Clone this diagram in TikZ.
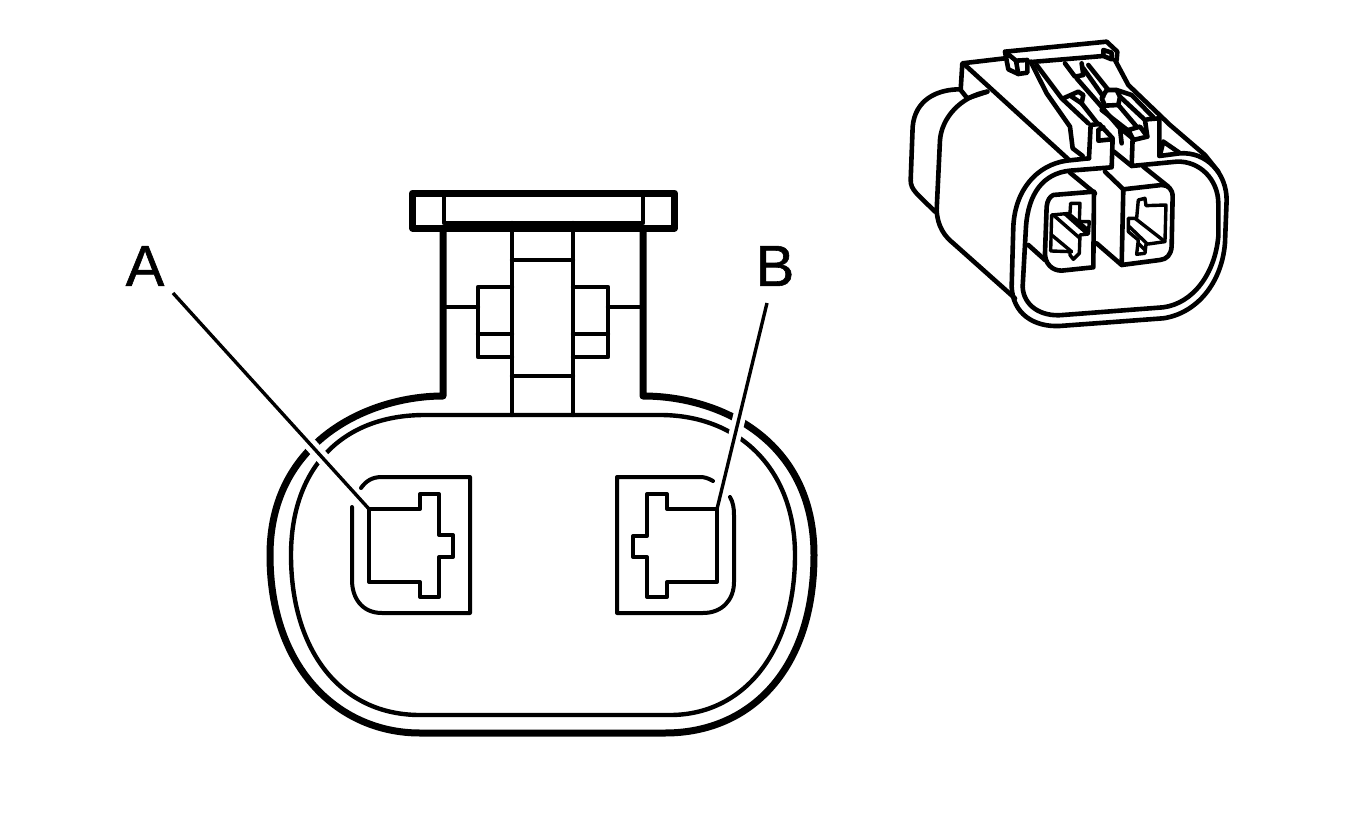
\documentclass[tikz,border=0pt]{standalone}
\usepackage{fontspec}
\usetikzlibrary{calc}
\setmainfont[FakeBold=1]{Liberation Sans}
\tikzset{
  thickln/.style={line width=7pt,line join=round,line cap=butt},
  midln/.style={line width=4pt,line join=round,line cap=round},
  thinln/.style={line width=4.4pt,line join=round,line cap=round},
  smallln/.style={line width=4.6pt,line join=round,line cap=round},
  tinyln/.style={line width=3.4pt,line join=round,line cap=round},
  leader/.style={line width=3.4pt},
  halo/.style={line width=13pt,white},
  lab/.style={font=\fontsize{58}{58}\selectfont,inner sep=0pt}
}
\begin{document}
\begin{tikzpicture}[x=1pt,y=-1pt]
\useasboundingbox (0,0) rectangle (1355,827);
\fill[white] (0,0) rectangle (1355,827);
% ---- large view
\draw[thickln] (443,228) -- (443,396) .. controls (370,396) and (270,440) .. (270,555)
  .. controls (270,670) and (340,733) .. (420,733) -- (665,733)
  .. controls (750,733) and (814,670) .. (814,555)
  .. controls (814,440) and (720,396) .. (643,396) -- (643,228);
\draw[thinln] (425,415) .. controls (340,415) and (291,470) .. (291,555)
  .. controls (291,650) and (340,715) .. (420,715) -- (670,715)
  .. controls (745,715) and (795,650) .. (795,555)
  .. controls (795,470) and (740,415) .. (660,415) -- cycle;
% handle
\draw[thickln] (412.5,193) rectangle (674.5,228);
\draw[thinln] (444,193) -- (444,223) -- (643,223) -- (643,193);
\draw[thinln] (512,223) -- (512,415) (573,223) -- (573,415)
  (512,260) -- (573,260) (512,376) -- (573,376);
\draw[thinln] (512,287) -- (478,287) -- (478,357) -- (512,357) (478,334) -- (512,334)
  (573,287) -- (608,287) -- (608,357) -- (573,357) (608,334) -- (573,334)
  (443,307) -- (478,307) (608,307) -- (643,307);
% sockets
\draw[midln] (361,488) .. controls (366,481) and (372,477) .. (382,477) -- (470,477) -- (470,613) -- (382,613)
  .. controls (362,613) and (352,598) .. (352,580) -- (352,507);
\draw[midln] (713,481) .. controls (708,478) and (704,477) .. (700,477) -- (617,477) -- (617,613) -- (703,613)
  .. controls (722,613) and (734,600) .. (734,582) -- (734,515) .. controls (734,508) and (733,502) .. (730,497);
\draw[midln] (369,509) -- (420,509) -- (420,494) -- (439,494) -- (439,535) -- (453,535) -- (453,557)
  -- (439,557) -- (439,597) -- (420,597) -- (420,582) -- (369,582) -- cycle;
\draw[midln] (717,509) -- (667,509) -- (667,494) -- (647,494) -- (647,536) -- (633,536) -- (633,557)
  -- (647,557) -- (647,597) -- (667,597) -- (667,582) -- (717,582) -- cycle;
% labels and leaders
\node[lab] (labA) at (145,266) {A};
\node[lab] (labB) at (775,266) {B};
\coordinate (endA0) at (173,293);
\coordinate (endA1) at (369,509);
\coordinate (endB0) at (767,303);
\coordinate (endB1) at (717,509);
\draw[halo] ($(endA0)!0.62!(endA1)$) -- ($(endA0)!0.85!(endA1)$);
\draw[halo] ($(endB0)!0.47!(endB1)$) -- ($(endB0)!0.71!(endB1)$);
\draw[leader] (endA0) -- (endA1);
\draw[leader] (endB0) -- (endB1);
% ---- small view (coordinates are those of a 3x enlargement)
\begin{scope}[shift={(890,30)},x=0.3333pt,y=-0.3333pt]
% back lobe
\draw[smallln] (210,178) .. controls (140,178) and (75,210) .. (68,290) -- (62,450)
  .. controls (62,480) and (80,490) .. (135,545);
% body
\draw[smallln] (292,185) .. controls (210,200) and (155,265) .. (150,330) -- (140,540)
  .. controls (142,590) and (165,620) .. (190,640) -- (375,805);
\draw[smallln] (232,205) -- (292,185);
\draw[smallln] (232,205) -- (212,180) -- (217,100) -- (345,85);
\draw[smallln] (225,105) -- (535,388);
% handle bar
\draw[smallln] (345,65) -- (650,35) -- (682,65) -- (680,90);
\draw[smallln] (345,65) -- (355,118) -- (385,132) -- (412,128) -- (412,90) -- (378,92) -- cycle;
\draw[smallln] (378,92) -- (385,132);
\draw[smallln] (412,97) -- (640,78) -- (640,60) -- (665,68) -- (665,88) -- (640,78);
% left arm
\draw[smallln] (422,95) -- (470,190) -- (540,290) -- (548,355) -- (578,378);
\draw[smallln] (440,105) -- (515,205) -- (595,280);
\draw[smallln] (525,100) -- (555,140) -- (580,135) -- (575,100);
\draw[smallln] (520,205) -- (565,185) -- (580,195) -- (575,220) -- (622,280);
\draw[smallln] (545,200) -- (575,220);
% middle
\draw[smallln] (560,145) -- (630,225) -- (690,295) -- (695,340);
\draw[smallln] (580,115) -- (640,200);
\draw[smallln] (595,105) -- (655,180);
\draw[smallln] (635,240) -- (712,300);
% right arm
\draw[smallln] (675,90) -- (715,165) -- (840,285) -- (945,375) -- (985,425);
\draw[smallln] (635,205) -- (650,180) -- (680,180) -- (690,200) -- (685,225) -- (645,227) -- cycle;
\draw[smallln] (680,180) -- (725,195) -- (790,262);
\draw[smallln] (690,200) -- (765,270) -- (772,320);
\draw[smallln] (685,225) -- (740,290);
\draw[smallln] (715,300) -- (750,290) -- (772,320) -- (730,330) -- cycle;
% front frame
\draw[smallln] (597,385) -- (530,392) .. controls (440,405) and (375,480) .. (370,590) -- (365,770)
  .. controls (368,850) and (430,892) .. (510,888) -- (820,865)
  .. controls (920,850) and (995,760) .. (1005,640) -- (1010,510)
  .. controls (1010,430) and (950,365) .. (870,370) -- (808,378) -- (808,265) -- (772,268);
\draw[smallln] (597,385) -- (602,285) -- (628,282) -- (668,325) -- (665,412) -- (540,422)
  .. controls (460,430) and (415,490) .. (408,590) -- (398,770)
  .. controls (400,825) and (450,862) .. (520,855) -- (820,832)
  .. controls (910,820) and (975,730) .. (985,620) -- (985,520)
  .. controls (985,450) and (930,392) .. (860,395) -- (725,408) -- (728,325) -- (695,298);
\draw[smallln] (625,300) -- (625,332) -- (665,328) (625,300) -- (640,292);
\draw[smallln] (820,335) -- (810,375) (820,335) -- (868,368);
\draw[smallln] (672,365) -- (725,408);
% sockets
\draw[smallln] (490,495) -- (612,485) -- (610,712) -- (515,722)
  .. controls (485,722) and (465,700) .. (465,670) -- (470,530) .. controls (472,510) and (480,500) .. (490,495);
\draw[smallln] (700,478) -- (815,465) .. controls (835,465) and (848,478) .. (848,500) -- (845,650)
  .. controls (843,675) and (830,688) .. (810,690) -- (695,705) -- cycle;
\draw[smallln] (540,428) -- (615,490);
\draw[smallln] (645,425) -- (700,478);
\draw[smallln] (760,410) -- (835,470);
\draw[smallln] (415,645) -- (465,690);
\draw[smallln] (620,640) -- (695,705);
% terminal left
\draw[tinyln] (485,555) -- (540,550) -- (542,520) -- (570,520) -- (568,575) -- (598,575) -- (595,612) -- (570,615)
  -- (568,670) -- (550,688) -- (540,675) -- (540,665) -- (482,663) -- cycle;
\draw[tinyln] (490,555) -- (570,625) (525,552) -- (590,610) (535,550) -- (597,602)
  (485,615) -- (545,665);
% terminal right
\draw[tinyln] (745,510) -- (765,505) -- (768,527) -- (828,525) -- (825,635) -- (768,643) -- (765,670) -- (740,673)
  -- (745,630) -- (715,605) -- (715,565) -- (740,565) -- cycle;
\draw[tinyln] (735,565) -- (825,635) (718,590) -- (770,640) (745,640) -- (765,660);
\end{scope}
\end{tikzpicture}
\end{document}
